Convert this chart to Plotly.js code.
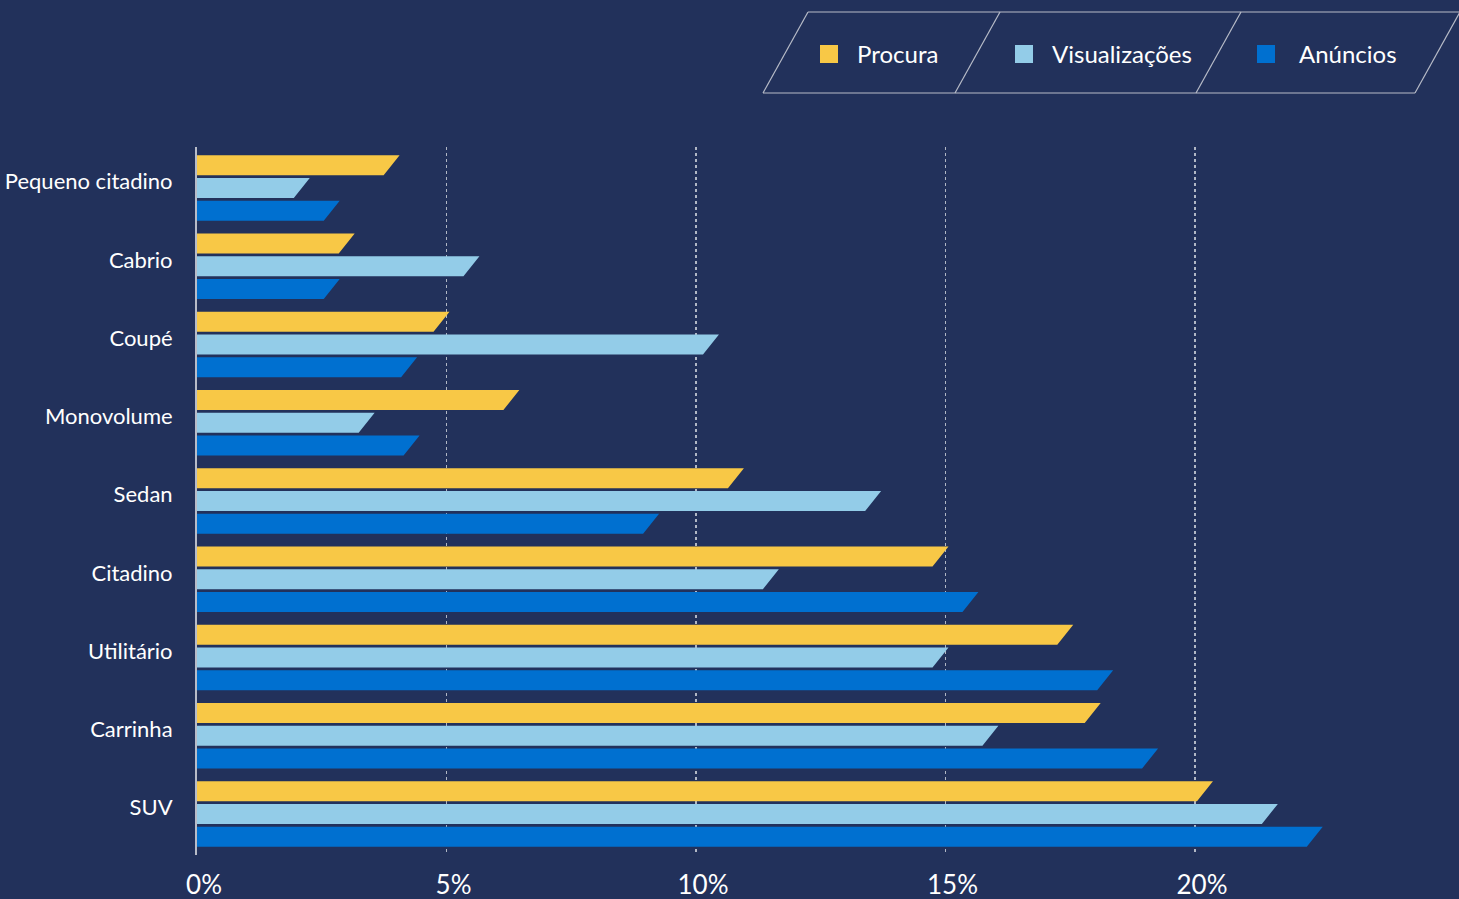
<!DOCTYPE html>
<html>
<head>
<meta charset="utf-8">
<script src="https://cdn.plot.ly/plotly-3.0.1.min.js"></script>
<style>
html,body{margin:0;padding:0;background:#22315B;}
#chart{width:1459px;height:899px;}
</style>
</head>
<body>
<div id="chart"></div>
<script>
const categories = ["Pequeno citadino","Cabrio","Coupé","Monovolume","Sedan","Citadino","Utilitário","Carrinha","SUV"];
const seriesNames = ["Procura","Visualizações","Anúncios"];
const procura       = [3.9, 3.0, 4.9, 6.3, 10.8, 14.9, 17.4, 17.95, 20.2];
const visualizacoes = [2.1, 5.5, 10.3, 3.4, 13.55, 11.5, 14.9, 15.9, 21.5];
const anuncios      = [2.7, 2.7, 4.25, 4.3, 9.1, 15.5, 18.2, 19.1, 22.4];
const xTickVals = [0, 5, 10, 15, 20];
const xTickText = ["0%", "5%", "10%", "15%", "20%"];

const colors = ["#F8C846", "#93CCE8", "#0070D0"];
const allSeries = [procura, visualizacoes, anuncios];
const FONT = "Lato, 'Noto Sans', sans-serif";

const slant = 0.32;      // slant width in x units
const pitch = 0.29;      // vertical offset between bars in a group
const halfH = 0.128;     // half bar height

const traces = [];
allSeries.forEach((vals, k) => {
  const xs = [], ys = [];
  vals.forEach((v, i) => {
    const yc = i + (k - 1) * pitch;
    const top = yc - halfH, bot = yc + halfH;
    xs.push(0, v + slant / 2, v - slant / 2, 0, 0, null);
    ys.push(top, top, bot, bot, top, null);
  });
  traces.push({
    type: "scatter", mode: "lines", x: xs, y: ys,
    fill: "toself", fillcolor: colors[k],
    line: {width: 0, color: colors[k]},
    name: seriesNames[k], showlegend: false, hoverinfo: "skip"
  });
});

const W = 1459, H = 899;
const mL = 197, mR = 2, mT = 147, mB = 44;
const pw = W - mL - mR, ph = H - mT - mB;
const px = x => (x - mL) / pw;
const py = y => (H - mB - y) / ph;
const frameLine = {color: "#B8BCC8", width: 1.2};
const shapes = [];
const yTop = 12, yBot = 93;
shapes.push({type: "line", xref: "paper", yref: "paper", x0: px(808), y0: py(yTop), x1: px(1459), y1: py(yTop), line: frameLine});
shapes.push({type: "line", xref: "paper", yref: "paper", x0: px(763), y0: py(yBot), x1: px(1415), y1: py(yBot), line: frameLine});
[[763, 808], [955, 1000], [1196, 1241], [1415, 1460]].forEach(([b, t]) => {
  shapes.push({type: "line", xref: "paper", yref: "paper", x0: px(b), y0: py(yBot), x1: px(t), y1: py(yTop), line: frameLine});
});
const legendPos = [[820, 855], [1015, 1050], [1257, 1297]];
const annotations = [];
legendPos.forEach(([sx, tx], k) => {
  shapes.push({type: "rect", xref: "paper", yref: "paper", x0: px(sx), x1: px(sx + 18), y0: py(63), y1: py(45), fillcolor: colors[k], line: {width: 0}});
  annotations.push({xref: "paper", yref: "paper", x: px(tx), y: py(53), xanchor: "left", yanchor: "middle",
    text: seriesNames[k], showarrow: false, font: {family: FONT, size: 24, color: "#FFFFFF"}});
});

const layout = {
  width: W, height: H,
  paper_bgcolor: "#22315B", plot_bgcolor: "#22315B",
  margin: {l: mL, r: mR, t: mT, b: mB},
  showlegend: false,
  xaxis: {
    range: [0, pw / 49.9], tickvals: xTickVals, ticktext: xTickText,
    showgrid: true, gridcolor: "rgba(255,255,255,0.65)", griddash: "dot", gridwidth: 1.2,
    zeroline: false, showline: false, ticks: "", ticklabelstandoff: 12, ticklabelshift: 7,
    tickfont: {family: FONT, size: 26, color: "#FFFFFF"},
    fixedrange: true
  },
  yaxis: {
    range: [8.524, -0.524], tickvals: categories.map((c, i) => i - 0.08), ticktext: categories,
    showgrid: false, zeroline: false, showline: true, linecolor: "#B8BCC8", linewidth: 2,
    ticks: "", ticklabelstandoff: 18,
    tickfont: {family: FONT, size: 22, color: "#FFFFFF"},
    fixedrange: true
  },
  shapes: shapes,
  annotations: annotations
};

Plotly.newPlot("chart", traces, layout, {displayModeBar: false, staticPlot: true});
</script>
</body>
</html>
